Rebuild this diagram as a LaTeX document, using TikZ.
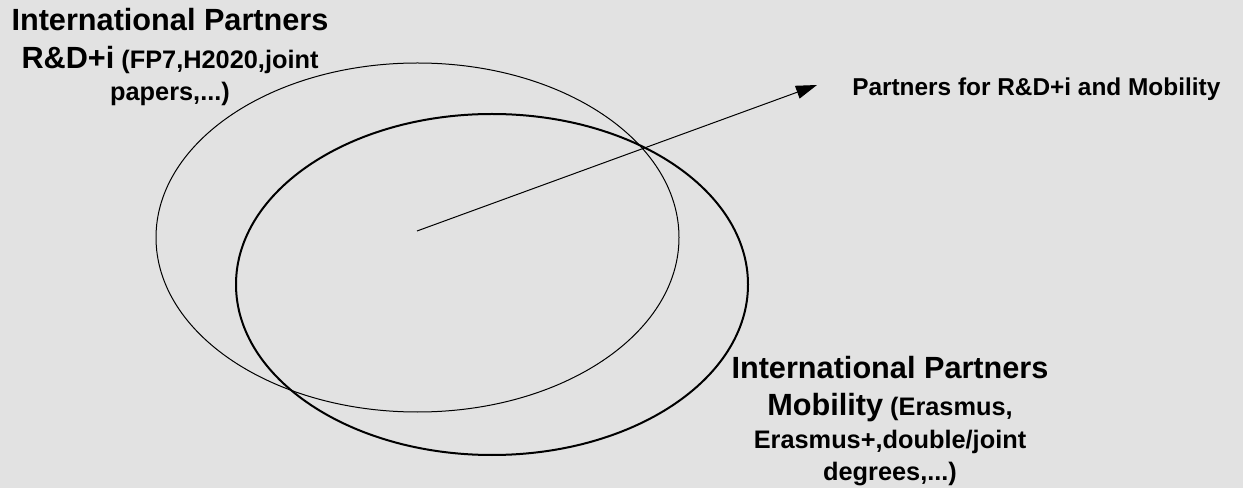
\documentclass[tikz,border=0pt]{standalone}
\usepackage{fontspec}
\setmainfont{Liberation Sans}
\usetikzlibrary{arrows.meta}
\newcommand{\bigpart}{\fontsize{23}{28.5}\selectfont}
\newcommand{\smallpart}{\fontsize{19}{24.75}\selectfont}
\definecolor{bgrey}{RGB}{226,226,226}
\tikzset{
  partlbl/.style={align=center, inner sep=0pt, font=\smallpart\bfseries},
  thinring/.style={line width=0.75},
  thickring/.style={line width=1.5}
}
\begin{document}
\begin{tikzpicture}[x=0.75pt,y=0.75pt,yscale=-1,xscale=1]
%set diagram left start at 0, and has height of 488
\fill[bgrey] (0,0) rectangle (1243,488);
\useasboundingbox (0,0) rectangle (1243,488);

%Shape: Ellipse [R&D+i partners]
\draw [thinring] (417.5,237.5) ellipse [x radius=261.5, y radius=174.5];
%Shape: Ellipse [mobility partners]
\draw [thickring] (492,284.5) ellipse [x radius=256, y radius=170.5];

% Text Node
\node [partlbl, anchor=base] (rdi) at (170,101) {{\bigpart International Partners}\\[3.75pt]
  {\bigpart R\&D+i} (FP7,H2020,joint\\[-0.75pt] papers,...)};
% Text Node
\node [partlbl, anchor=base] (mob) at (890,480) {{\bigpart International Partners}\\[3pt]
  {\bigpart Mobility} (Erasmus,\\ Erasmus+,double/joint\\[-0.75pt] degrees,...)};
% Text Node
\node [inner sep=0pt, anchor=base west, font=\fontsize{18.3}{22}\selectfont\bfseries] (both) at (852,96) {Partners for R\&D+i and Mobility};

%Straight Lines [arrow to common partners]
\coordinate (mid) at (417,231);
\coordinate (tip) at (817,85);
\draw [line width=0.75, -{Triangle[length=15.75pt, width=10pt]}] (mid) -- (tip);

\end{tikzpicture}
\end{document}
